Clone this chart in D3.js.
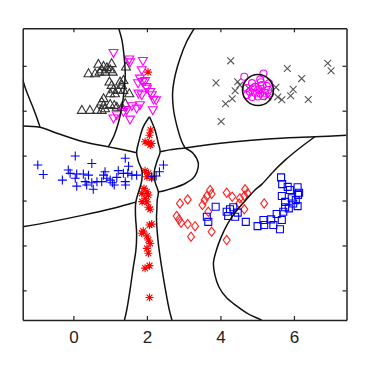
<!DOCTYPE html>
<html><head><meta charset="utf-8">
<script src="https://cdn.jsdelivr.net/npm/d3@7"></script>
<style>body{margin:0;background:#fff}</style>
</head><body><div id="chart"></div>
<script>
const xTicks=[0,2,4,6];
const yTicks=[0,2,4,6,8,10];

const blackTriangles=[[0.68,10.08],[0.82,9.99],[0.77,9.84],[0.91,9.93],[1.04,10.11],[1.00,9.84],[1.07,9.73],[0.41,9.66],[0.59,9.66],[0.71,9.73],[0.86,9.73],[0.98,9.29],[1.04,9.14],[1.27,9.29],[1.32,9.14],[1.36,9.36],[1.09,8.95],[1.22,8.92],[1.36,8.92],[1.52,8.77],[1.00,8.77],[1.13,8.77],[0.82,8.55],[0.77,8.40],[0.82,8.25],[1.00,8.29],[1.11,8.25],[0.23,8.03],[0.45,8.03],[0.64,8.03],[0.77,8.03],[0.86,8.10],[1.41,8.33],[1.32,8.17],[1.18,8.17],[1.43,9.96]];
const magentaTriangles=[[1.09,10.58],[1.52,10.29],[1.54,10.16],[1.89,10.22],[1.86,9.81],[1.81,9.44],[1.88,9.29],[1.95,9.33],[1.98,9.06],[1.77,8.77],[1.86,8.70],[2.09,8.84],[2.13,8.70],[2.18,8.50],[2.25,8.47],[2.16,8.03],[1.81,8.25],[1.72,8.10],[1.59,8.21],[1.45,8.03],[1.36,7.95],[1.18,7.81],[1.54,7.61],[1.09,7.66],[2.00,8.99],[1.76,9.23]];
const redAsterisks=[[2.03,9.72],[2.10,7.14],[2.07,6.91],[1.95,6.62],[2.04,6.57],[2.13,6.54],[2.09,6.47],[1.95,5.33],[2.04,5.21],[2.00,5.06],[2.13,4.99],[1.92,4.54],[2.00,4.39],[1.86,4.32],[2.04,4.24],[1.95,4.10],[2.00,3.94],[1.87,3.95],[2.04,3.70],[2.09,3.61],[2.07,2.91],[2.13,2.95],[1.86,2.54],[1.90,2.64],[2.00,2.42],[2.04,2.24],[2.09,2.09],[2.00,1.87],[2.04,1.65],[1.95,0.99],[2.07,1.10],[2.07,-0.32]];
const bluePlus=[[-0.97,5.58],[-0.82,5.16],[0.05,5.98],[0.50,5.65],[-0.14,5.36],[-0.09,5.21],[0.09,5.18],[0.27,5.18],[0.41,5.13],[-0.30,4.91],[0.05,4.99],[0.09,4.64],[0.36,4.69],[0.32,4.84],[0.50,4.79],[0.54,4.50],[0.64,4.84],[0.86,5.28],[0.82,5.13],[0.91,4.99],[0.77,4.84],[1.00,4.91],[1.06,4.79],[1.11,4.69],[1.22,5.33],[1.18,5.03],[1.41,5.88],[1.50,5.53],[1.48,5.21],[1.59,5.13],[1.41,4.84],[1.42,4.69],[1.72,5.13],[2.45,5.58],[2.34,5.28],[2.25,5.09],[2.13,5.06],[1.36,5.21]];
const grayCrosses=[[4.28,10.22],[3.88,9.24],[4.47,9.29],[4.53,9.14],[4.40,8.89],[4.32,8.53],[4.14,8.31],[4.02,7.52],[5.82,9.88],[6.21,9.43],[5.98,8.95],[5.91,8.67],[5.56,8.61],[5.67,8.49],[6.39,8.50],[6.92,10.11],[7.01,9.78],[5.51,9.04],[5.29,8.61],[5.10,8.92],[4.76,9.01]];
const magentaCircles=[[4.65,9.51],[5.17,9.66],[5.08,9.39],[4.86,9.23],[4.94,9.06],[5.13,9.14],[5.26,9.10],[5.30,8.92],[4.80,8.84],[4.94,8.80],[5.08,8.77],[5.21,8.80],[5.35,8.77],[4.89,8.99],[5.03,8.95],[4.72,8.70],[4.86,8.61],[5.02,8.63],[5.16,8.65],[5.10,9.27],[4.71,9.01],[5.32,9.22]];
const redDiamonds=[[2.90,3.87],[3.11,4.05],[2.81,3.31],[2.87,3.16],[2.93,3.01],[3.11,2.95],[3.31,2.86],[3.20,2.39],[3.51,3.80],[3.63,4.20],[3.72,4.47],[3.76,4.29],[3.67,3.50],[3.76,2.61],[4.17,2.24],[4.17,4.35],[4.32,4.17],[4.53,4.10],[4.67,4.50],[4.74,4.32],[4.65,4.20],[4.51,3.87],[4.65,3.61],[5.19,3.87],[3.57,4.02]];
const blueSquares=[[5.65,5.03],[5.68,4.73],[5.83,4.61],[6.10,4.59],[6.14,4.35],[5.67,4.20],[5.94,4.10],[6.05,4.02],[5.76,3.94],[5.98,3.87],[6.10,3.75],[5.76,3.70],[5.86,3.65],[3.87,3.72],[3.63,3.28],[3.67,3.05],[4.17,3.50],[4.26,3.61],[4.35,3.70],[4.21,3.31],[4.40,3.28],[4.47,3.46],[4.69,3.05],[5.01,2.86],[5.17,3.13],[5.19,2.91],[5.38,3.16],[5.44,2.91],[5.53,3.40],[5.67,3.13],[5.71,3.50],[5.62,2.72],[5.89,4.47],[6.11,4.25]];

// decision boundaries (data coordinates)
const boundaryA=[[-1.38,9.39],[-1.29,8.92],[-1.18,8.47],[-1.04,7.89],[-0.91,7.28]];
const boundaryB=[[-1.38,7.32],[-0.91,7.26],[-0.45,7.00],[0.27,6.62],[0.95,6.39],[1.32,6.27],[1.72,6.13]];
const boundaryC=[[1.23,11.67],[1.32,11.14],[1.38,10.40],[1.41,9.66],[1.38,8.92],[1.32,8.17],[1.22,7.44],[1.11,6.91],[0.95,6.39]];
const columnLeft=[[2.07,7.73],[1.90,7.28],[1.79,6.69],[1.72,6.13],[1.77,5.73],[1.86,5.36],[1.86,4.91],[1.79,4.47],[1.72,4.10],[1.69,3.80],[1.69,3.28],[1.72,2.54],[1.70,1.79],[1.63,1.05],[1.54,0.01],[1.45,-0.88],[1.39,-1.32]];
const columnRight=[[2.07,7.73],[2.22,7.14],[2.31,6.54],[2.36,6.17],[2.27,5.73],[2.20,5.28],[2.22,4.84],[2.31,4.38],[2.28,4.02],[2.27,3.58],[2.26,3.22],[2.31,2.09],[2.40,1.05],[2.49,0.16],[2.61,-0.88],[2.68,-1.32]];
const boundaryE=[[-1.38,2.83],[-0.63,3.05],[0.27,3.35],[1.00,3.62],[1.41,3.80],[1.69,3.93]];
const connector=[[2.36,6.17],[2.68,6.27],[3.04,6.34]];
const boundaryG=[[3.04,6.34],[2.95,6.62],[2.81,7.36],[2.72,8.10],[2.70,8.84],[2.77,9.59],[2.90,10.33],[3.08,11.07],[3.29,11.67]];
const boundaryH=[[3.04,6.34],[3.94,6.54],[4.85,6.69],[5.76,6.79],[6.57,6.84],[7.43,6.91]];
const bulge=[[3.04,6.34],[3.26,6.10],[3.40,5.65],[3.36,5.27],[3.26,5.00],[3.04,4.76],[2.77,4.58],[2.54,4.47],[2.31,4.38]];
const boundaryI=[[6.57,6.84],[6.16,6.34],[5.76,5.80],[5.48,5.36],[5.13,4.73],[4.94,4.47],[4.67,3.98],[4.45,3.58],[4.21,3.00],[4.02,2.37],[3.89,1.79],[3.81,1.22],[3.85,0.68],[3.96,0.15],[4.15,-0.30],[4.40,-0.65],[4.72,-1.01],[5.12,-1.32]];
const ringCenter=[5.02,8.92];
const ringRadius=[0.42,0.69];

const W=371,H=371;
const margin={top:28.3,right:24.5,bottom:51,left:22.7};
const x=d3.scaleLinear().domain([-1.38,7.43]).range([margin.left,W-margin.right]);
const y=d3.scaleLinear().domain([-1.32,11.67]).range([H-margin.bottom,margin.top]);

const svg=d3.select("#chart").append("svg").attr("width",W).attr("height",H)
  .style("font-family","'Liberation Sans',Arial,sans-serif");

svg.append("defs").append("clipPath").attr("id","clip").append("rect")
  .attr("x",margin.left).attr("y",margin.top)
  .attr("width",W-margin.left-margin.right).attr("height",H-margin.top-margin.bottom);

const markers={
  triUp:"M0,-4.6L4.5,3.3L-4.5,3.3Z",
  triDown:"M0,4.6L4.5,-3.3L-4.5,-3.3Z",
  plus:"M-4.5,0H4.5M0,-4.5V4.5",
  cross:"M-3.4,-3.4L3.4,3.4M-3.4,3.4L3.4,-3.4",
  aster:"M-4,0H4M0,-4V4M-2.9,-2.9L2.9,2.9M-2.9,2.9L2.9,-2.9",
  diamond:"M0,-4.6L3.5,0L0,4.6L-3.5,0Z",
  square:"M-3.5,-3.5H3.5V3.5H-3.5Z"
};
function scatter(data,shape,color){
  svg.append("g").attr("clip-path","url(#clip)").selectAll("path").data(data).join("path")
    .attr("d",markers[shape]).attr("transform",d=>`translate(${x(d[0])},${y(d[1])})`)
    .attr("fill","none").attr("stroke",color).attr("stroke-width",1.1);
}
scatter(blackTriangles,"triUp","#333");
scatter(magentaTriangles,"triDown","#ff00ff");
scatter(redAsterisks,"aster","#ff0000");
scatter(bluePlus,"plus","#0000ff");
scatter(grayCrosses,"cross","#555");
svg.append("g").attr("clip-path","url(#clip)").selectAll("circle").data(magentaCircles).join("circle")
  .attr("cx",d=>x(d[0])).attr("cy",d=>y(d[1])).attr("r",3.5)
  .attr("fill","none").attr("stroke","#ff00ff").attr("stroke-width",1.1);
scatter(redDiamonds,"diamond","#ff2020");
scatter(blueSquares,"square","#0000ff");

const line=d3.line().x(d=>x(d[0])).y(d=>y(d[1])).curve(d3.curveCatmullRom.alpha(0.5));
const gb=svg.append("g").attr("clip-path","url(#clip)");
[boundaryA,boundaryB,boundaryC,columnLeft,columnRight,boundaryE,connector,boundaryG,boundaryH,bulge,boundaryI].forEach(b=>{
  gb.append("path").attr("d",line(b)).attr("fill","none").attr("stroke","#111").attr("stroke-width",1.5);
});
gb.append("ellipse").attr("cx",x(ringCenter[0])).attr("cy",y(ringCenter[1]))
  .attr("rx",x(ringCenter[0]+ringRadius[0])-x(ringCenter[0]))
  .attr("ry",y(ringCenter[1])-y(ringCenter[1]+ringRadius[1]))
  .attr("fill","none").attr("stroke","#111").attr("stroke-width",1.6);

// axes (inward ticks, MATLAB box)
const tick=-4;
const gx=svg.append("g").attr("transform",`translate(0,${H-margin.bottom})`)
  .call(d3.axisBottom(x).tickValues(xTicks).tickSize(tick).tickSizeOuter(0).tickPadding(11).tickFormat(d3.format("d")));
gx.selectAll("text").attr("font-size",17).attr("fill","#222");
svg.append("g").attr("transform",`translate(0,${margin.top})`)
  .call(d3.axisTop(x).tickValues(xTicks).tickSize(tick).tickSizeOuter(0).tickFormat(""));
svg.append("g").attr("transform",`translate(${margin.left},0)`)
  .call(d3.axisLeft(y).tickValues(yTicks).tickSize(tick).tickSizeOuter(0).tickFormat(""));
svg.append("g").attr("transform",`translate(${W-margin.right},0)`)
  .call(d3.axisRight(y).tickValues(yTicks).tickSize(tick).tickSizeOuter(0).tickFormat(""));
svg.selectAll(".domain").attr("stroke","#222").attr("stroke-width",1.5);
svg.selectAll(".tick line").attr("stroke","#222").attr("stroke-width",1.2);
</script></body></html>
